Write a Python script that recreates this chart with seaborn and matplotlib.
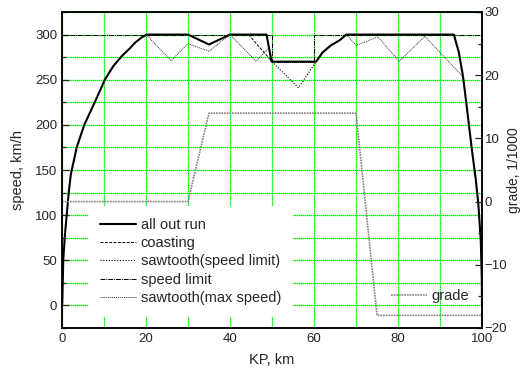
import numpy as np
import pandas as pd
import matplotlib
matplotlib.use('Agg')
import matplotlib.pyplot as plt
from matplotlib.ticker import MultipleLocator
import seaborn as sns

sns.set_style('white')
plt.rcParams['font.family'] = ['Liberation Sans', 'DejaVu Sans']

# all out run
allout_km = [0, 0.07, 0.3, 0.7, 1.1, 1.6, 2.1, 3.5, 5.3, 7.9, 10.2, 12.2, 14.2, 16.2, 17.4, 19, 20.2,
             30, 35, 40, 48.7, 49.9, 60.5, 62, 64, 66.2, 67.7, 93.3, 94.5, 95.5, 96.5, 97.5, 98.5,
             99.1, 99.7, 99.95, 100]
allout_v = [0, 3, 51, 78, 99, 125, 145, 175, 200, 226, 250, 265, 276, 285, 291, 297, 300,
            300, 289, 300, 300, 270, 270, 280, 288, 294, 300, 300, 280, 253, 215, 176, 140,
            114, 73, 30, 0]

# coasting into the speed restriction
coast_km = [44.4, 50]
coast_v = [300, 270]

# sawtooth inside the speed restriction
sawlim_km = [50, 56.3, 60.5]
sawlim_v = [270, 241, 270]

# speed limit
limit_km = [0, 50, 50, 60, 60, 100]
limit_v = [300, 300, 270, 270, 300, 300]

# sawtooth at max speed (two pieces)
sawmax1_km = [20, 26, 30, 35, 40, 46.2, 49.1]
sawmax1_v = [300, 271, 290, 281.5, 300, 270.5, 284.5]
sawmax2_km = [67.7, 70, 75.2, 80.3, 86.4, 95.5]
sawmax2_v = [300, 288, 297.4, 270.5, 298, 253]

# grade
grade_km = [0, 30, 35, 70, 75, 100]
grade_g = [0, 0, 14, 14, -18, -18]

fig = plt.figure(figsize=(5.22, 3.76), dpi=100)
ax = fig.add_axes([62/522, 1-328/376, 420/522, 316/376])
ax2 = ax.twinx()

fs_tick = 9.5
fs = 10.5
sns.lineplot(x=allout_km, y=allout_v, ax=ax, color='black', lw=1.5, sort=False,
             estimator=None, label='all out run')
sns.lineplot(x=coast_km, y=coast_v, ax=ax, color='black', lw=0.7, sort=False,
             estimator=None, label='coasting', linestyle=(0, (3, 1.5)))
sns.lineplot(x=sawlim_km, y=sawlim_v, ax=ax, color='black', lw=0.8, sort=False,
             estimator=None, label='sawtooth(speed limit)', linestyle=(0, (1, 1.5)))
sns.lineplot(x=limit_km, y=limit_v, ax=ax, color='black', lw=0.7, sort=False,
             estimator=None, label='speed limit', linestyle=(0, (5, 1, 1, 1)))
sns.lineplot(x=sawmax1_km, y=sawmax1_v, ax=ax, color='#333333', lw=0.7, sort=False,
             estimator=None, label='sawtooth(max speed)', linestyle=(0, (1, 1)))
sns.lineplot(x=sawmax2_km, y=sawmax2_v, ax=ax, color='#333333', lw=0.7, sort=False,
             estimator=None, label='_nolegend_', linestyle=(0, (1, 1)))
sns.lineplot(x=grade_km, y=grade_g, ax=ax2, color='#808080', lw=1.2, sort=False,
             estimator=None, label='grade', linestyle=(0, (1, 0.6)))

ax.set_xlim(0, 100)
ax.set_ylim(-25, 325)
ax2.set_ylim(-20, 30)
ax.xaxis.set_major_locator(MultipleLocator(20))
ax.xaxis.set_minor_locator(MultipleLocator(10))
ax.yaxis.set_major_locator(MultipleLocator(50))
ax.yaxis.set_minor_locator(MultipleLocator(25))
ax2.yaxis.set_major_locator(MultipleLocator(10))
ax2.yaxis.set_minor_locator(MultipleLocator(5))

ax.grid(True, which='both', color='#00ee00', lw=0.9, linestyle=(0, (1.2, 0.4)))
ax.set_axisbelow(True)

ax.tick_params(axis='both', which='both', direction='in', labelsize=fs_tick, top=False, right=False)
ax.tick_params(which='major', length=5, width=0.9)
ax.tick_params(which='minor', length=3, width=0.9)
ax2.tick_params(axis='y', which='both', direction='in', labelsize=fs_tick, pad=2)
ax2.tick_params(which='major', length=5, width=0.9)
ax2.tick_params(which='minor', length=3, width=0.9)

for a in (ax, ax2):
    for s in a.spines.values():
        s.set_color('black')
        s.set_linewidth(1.1)

ax.set_xlabel('KP, km', fontsize=fs, labelpad=6)
ax.set_ylabel('speed, km/h', fontsize=fs, labelpad=7)
ax2.set_ylabel('grade, 1/1000', fontsize=10, labelpad=0)

leg = ax.legend(loc='upper left', bbox_to_anchor=(0.062, 0.386), fontsize=fs,
                handlelength=2.5, handletextpad=0.3, labelspacing=0.3,
                frameon=True, fancybox=False, borderpad=0.8, borderaxespad=0)
leg.get_frame().set_facecolor('white')
leg.get_frame().set_edgecolor('none')
leg.get_frame().set_alpha(1)

leg2 = ax2.legend(loc='lower right', bbox_to_anchor=(0.976, 0.07), fontsize=fs,
                  handlelength=2.5, handletextpad=0.3, frameon=False,
                  borderpad=0.2, borderaxespad=0)

fig.savefig('out.png', dpi=100)
